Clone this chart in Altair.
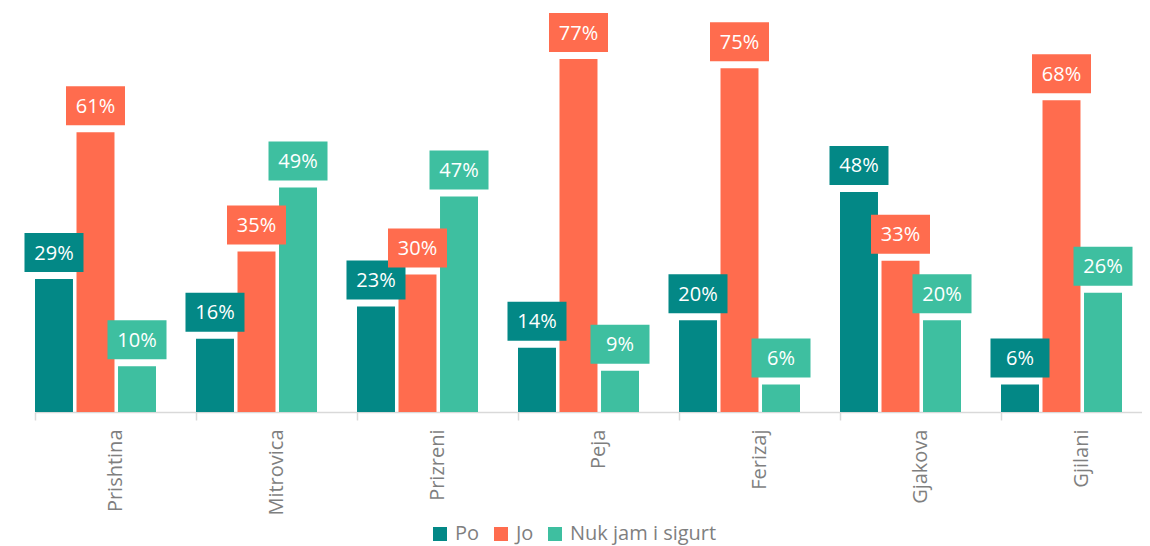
import altair as alt
import pandas as pd

cities = ["Prishtina", "Mitrovica", "Prizreni", "Peja", "Ferizaj", "Gjakova", "Gjilani"]
series = ["Po", "Jo", "Nuk jam i sigurt"]
po = [29, 16, 23, 14, 20, 48, 6]
jo = [61, 35, 30, 77, 75, 33, 68]
nuk = [10, 49, 47, 9, 6, 20, 26]
colors = ["#038886", "#FF6C4E", "#3EBFA0"]

rows = []
for name, vals in zip(series, [po, jo, nuk]):
    for c, v in zip(cities, vals):
        rows.append({"city": c, "series": name, "value": v, "label": f"{v}%"})
df = pd.DataFrame(rows)

FONT = "Open Sans"
GRAY = "#7f7f7f"

x = alt.X(
    "city:N",
    sort=cities,
    scale=alt.Scale(range=[0, 1127], paddingInner=0, paddingOuter=0),
    axis=alt.Axis(
        title=None,
        labelAngle=270,
        labelAlign="right",
        labelBaseline="middle",
        labelFont=FONT,
        labelFontSize=20,
        labelColor=GRAY,
        labelPadding=9,
        tickBand="extent",
        tickColor="#d9d9d9",
        tickSize=8,
        tickWidth=1.5,
        domainColor="#d9d9d9",
        domainWidth=1.5,
        grid=False,
    ),
)
xo = alt.XOffset(
    "series:N",
    sort=series,
    scale=alt.Scale(range=[0, 121], paddingInner=0.085, paddingOuter=0),
)
y = alt.Y("value:Q", scale=alt.Scale(domain=[0, 88.13], nice=False, zero=True), axis=None)
color = alt.Color(
    "series:N",
    sort=series,
    scale=alt.Scale(domain=series, range=colors),
    legend=alt.Legend(
        title=None,
        orient="none",
        direction="horizontal",
        legendX=395,
        legendY=516,
        symbolType="square",
        symbolSize=196,
        symbolStrokeWidth=0,
        symbolOpacity=1,
        labelFont=FONT,
        labelFontSize=20,
        labelColor=GRAY,
        labelOffset=5,
        columnPadding=11,
    ),
)

base = alt.Chart(df)

bars = base.mark_bar().encode(x=x, xOffset=xo, y=y, color=color)

boxes = base.mark_point(
    shape="M-1,-0.661H1V0.661H-1Z",
    size=3481,
    filled=True,
    opacity=1,
    strokeWidth=0,
    yOffset=-26.5,
).encode(
    x=x,
    xOffset=xo,
    y=y,
    color=alt.Color("series:N", sort=series, scale=alt.Scale(domain=series, range=colors), legend=None),
)

texts = base.mark_text(
    font=FONT,
    fontSize=20,
    color="white",
    baseline="middle",
    align="center",
    yOffset=-25.5,
).encode(x=x, xOffset=xo, y=y, text="label:N")

chart = (
    alt.layer(bars, boxes, texts)
    .properties(
        width=1107,
        height=404,
        autosize=alt.AutoSizeParams(type="none"),
        padding={"left": 27, "top": 0, "right": 0, "bottom": 134},
    )
    .configure_view(stroke=None)
)

chart.save("out.html", embed_options={"renderer": "svg", "actions": False})
